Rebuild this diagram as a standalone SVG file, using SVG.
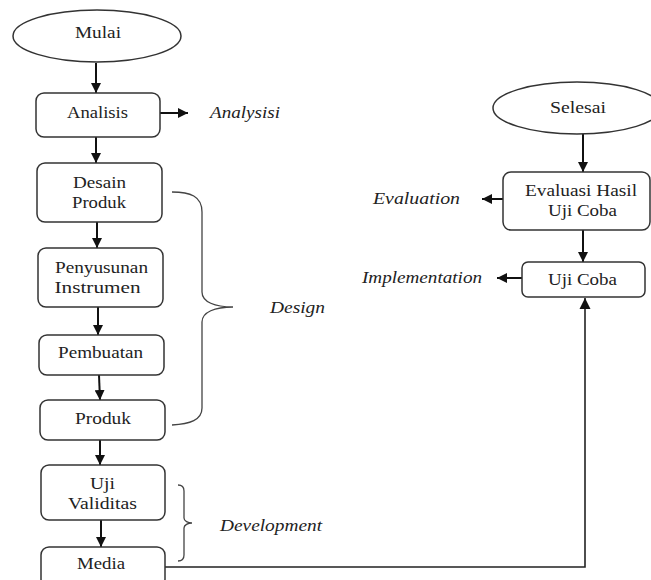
<svg xmlns="http://www.w3.org/2000/svg" width="651" height="580" viewBox="0 0 651 580">
<defs>
<marker id="ah" viewBox="0 0 10 10" refX="10" refY="5" markerWidth="5" markerHeight="5" orient="auto" markerUnits="strokeWidth">
<path d="M0,0 L10,5 L0,10 z" fill="#111"/>
</marker>
<marker id="ah2" viewBox="0 0 10 10" refX="10" refY="5" markerWidth="7" markerHeight="7" orient="auto" markerUnits="strokeWidth">
<path d="M0,0 L10,5 L0,10 z" fill="#111"/>
</marker>
</defs>
<style>
.box{fill:#fff;stroke:#333;stroke-width:1.5}
.t{font-family:"Liberation Serif","Times New Roman",serif;font-size:16px;fill:#222;text-anchor:middle}
.i{font-family:"Liberation Serif","Times New Roman",serif;font-size:16px;font-style:italic;fill:#222}
.c{fill:none;stroke:#111;stroke-width:2}
.thin{fill:none;stroke:#222;stroke-width:1.6}
.br{fill:none;stroke:#444;stroke-width:1.3}
</style>
<rect width="651" height="580" fill="#fff"/>

<g id="connectors">
<line class="c" x1="96" y1="63" x2="96" y2="93" marker-end="url(#ah)"/>
<line class="c" x1="160" y1="113" x2="188" y2="113" marker-end="url(#ah)"/>
<line class="c" x1="96" y1="137" x2="96" y2="163" marker-end="url(#ah)"/>
<line class="c" x1="97" y1="222" x2="97" y2="248" marker-end="url(#ah)"/>
<line class="c" x1="98" y1="307" x2="98" y2="335" marker-end="url(#ah)"/>
<line class="c" x1="99" y1="375" x2="100" y2="400" marker-end="url(#ah)"/>
<line class="c" x1="100" y1="440" x2="100" y2="465" marker-end="url(#ah)"/>
<line class="c" x1="101" y1="520" x2="101" y2="547" marker-end="url(#ah)"/>
<line class="c" x1="583" y1="134" x2="583" y2="172" marker-end="url(#ah)"/>
<line class="c" x1="503" y1="199" x2="482" y2="199" marker-end="url(#ah)"/>
<line class="c" x1="583" y1="230" x2="583" y2="262" marker-end="url(#ah)"/>
<line class="c" x1="522" y1="278" x2="497" y2="278" marker-end="url(#ah)"/>
<polyline class="thin" points="165,567 585,567 585,298" marker-end="url(#ah2)"/>
<path class="br" d="M172,192 C190,192 202,196 202,212 L202,292 C202,302 215,307 233,307 C215,307 202,312 202,322 L202,408 C202,420 190,424 172,425"/>
<path class="br" d="M178,485 C182,485 184,487 184,491 L184,518 C184,521 188,523 192,523 C188,523 184,525 184,528 L184,555 C184,559 182,561 178,561"/>
</g>

<g id="mulai"><ellipse class="box" cx="97" cy="36" rx="84" ry="26"/><text class="t" x="98" y="38" textLength="46" lengthAdjust="spacingAndGlyphs">Mulai</text></g>
<g id="analisis"><rect class="box" x="36" y="93" width="124" height="44" rx="8"/><text class="t" x="97.5" y="118" textLength="61" lengthAdjust="spacingAndGlyphs">Analisis</text></g>
<g id="analysisi-label"><text class="i" x="210" y="118" textLength="70" lengthAdjust="spacingAndGlyphs">Analysisi</text></g>
<g id="desain"><rect class="box" x="37" y="163" width="125" height="59" rx="8"/><text class="t" x="99.5" y="188" textLength="53" lengthAdjust="spacingAndGlyphs">Desain</text><text class="t" x="99" y="208" textLength="54" lengthAdjust="spacingAndGlyphs">Produk</text></g>
<g id="penyusunan"><rect class="box" x="38" y="248" width="125" height="59" rx="8"/><text class="t" x="101.5" y="273" textLength="93" lengthAdjust="spacingAndGlyphs">Penyusunan</text><text class="t" x="97.5" y="293" textLength="86" lengthAdjust="spacingAndGlyphs">Instrumen</text></g>
<g id="pembuatan"><rect class="box" x="39" y="335" width="125" height="40" rx="8"/><text class="t" x="100.5" y="358" textLength="85" lengthAdjust="spacingAndGlyphs">Pembuatan</text></g>
<g id="produk"><rect class="box" x="40" y="400" width="125" height="40" rx="8"/><text class="t" x="103" y="424" textLength="56" lengthAdjust="spacingAndGlyphs">Produk</text></g>
<g id="uji-validitas"><rect class="box" x="41" y="465" width="124" height="55" rx="8"/><text class="t" x="102.5" y="489" textLength="25" lengthAdjust="spacingAndGlyphs">Uji</text><text class="t" x="102.5" y="509" textLength="69" lengthAdjust="spacingAndGlyphs">Validitas</text></g>
<g id="media"><rect class="box" x="41" y="547" width="124" height="40" rx="8"/><text class="t" x="101" y="569" textLength="48" lengthAdjust="spacingAndGlyphs">Media</text></g>
<g id="design-label"><text class="i" x="270" y="313" textLength="55" lengthAdjust="spacingAndGlyphs">Design</text></g>
<g id="development-label"><text class="i" x="220" y="531" textLength="102" lengthAdjust="spacingAndGlyphs">Development</text></g>

<g id="selesai"><ellipse class="box" cx="577" cy="108" rx="84" ry="26"/><text class="t" x="578" y="113" textLength="56" lengthAdjust="spacingAndGlyphs">Selesai</text></g>
<g id="evaluasi"><rect class="box" x="503" y="172" width="147" height="58" rx="8"/><text class="t" x="581" y="196" textLength="112" lengthAdjust="spacingAndGlyphs">Evaluasi Hasil</text><text class="t" x="582.5" y="216" textLength="69" lengthAdjust="spacingAndGlyphs">Uji Coba</text></g>
<g id="evaluation-label"><text class="i" x="373" y="204" textLength="87" lengthAdjust="spacingAndGlyphs">Evaluation</text></g>
<g id="uji-coba"><rect class="box" x="522" y="262" width="123" height="35" rx="6"/><text class="t" x="582.5" y="285" textLength="69" lengthAdjust="spacingAndGlyphs">Uji Coba</text></g>
<g id="implementation-label"><text class="i" x="362" y="283" textLength="120" lengthAdjust="spacingAndGlyphs">Implementation</text></g>
</svg>
